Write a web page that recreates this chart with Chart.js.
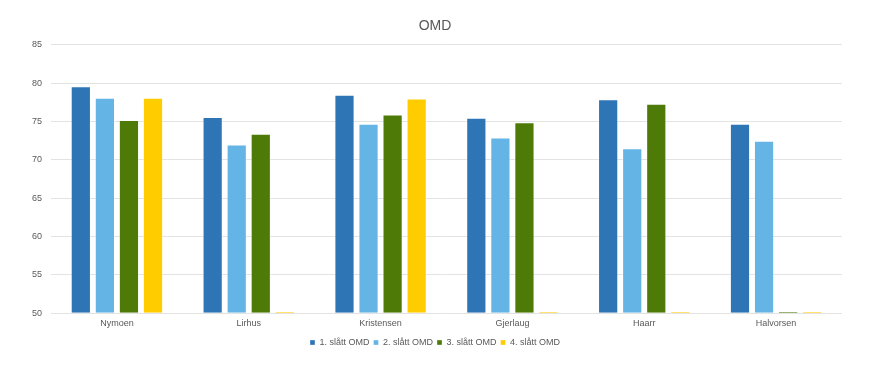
<!DOCTYPE html>
<html>
<head>
<meta charset="utf-8">
<script src="https://cdn.jsdelivr.net/npm/chart.js@4"></script>
<style>
  html, body { margin: 0; padding: 0; background: #fff; }
  #wrap { width: 873px; height: 367px; }
</style>
</head>
<body>
<div id="wrap"><canvas id="omdChart" width="873" height="367"></canvas></div>
<script>
// --- Data ---
const categories = ['Nymoen', 'Lirhus', 'Kristensen', 'Gjerlaug', 'Haarr', 'Halvorsen'];
const slatt1 = [79.6, 75.6, 78.5, 75.5, 77.9, 74.7];
const slatt2 = [78.1, 72.0, 74.7, 72.9, 71.5, 72.5];
const slatt3 = [75.2, 73.4, 75.9, 74.9, 77.3, 0];
const slatt4 = [78.1, 0, 78.0, 0, 0, 0];
const seriesNames = ['1. slått OMD', '2. slått OMD', '3. slått OMD', '4. slått OMD'];
const yTicks = [50, 55, 60, 65, 70, 75, 80, 85];

const yMin = yTicks[0];
const yMax = yTicks[yTicks.length - 1];
const colors = ['#2E75B6', '#64B4E5', '#4E7A07', '#FFCC00'];

// values under the axis minimum are drawn as a thin line at the axis, like the original
const clampToAxis = arr => arr.map(v => Math.max(v, yMin));

const datasets = [slatt1, slatt2, slatt3, slatt4].map((vals, i) => ({
    label: seriesNames[i],
    data: clampToAxis(vals),
    backgroundColor: colors[i],
    borderColor: 'rgba(255,255,255,0.35)',
    borderWidth: 1,
    base: yMin,
    minBarLength: 2,
    barPercentage: 0.84,
    categoryPercentage: 0.73
}));

const ctx = document.getElementById('omdChart').getContext('2d');
new Chart(ctx, {
    type: 'bar',
    data: { labels: categories, datasets: datasets },
    options: {
        responsive: false,
        animation: false,
        layout: { padding: { left: 28, right: 31, top: 8, bottom: 10 } },
        plugins: {
            title: {
                display: true,
                text: 'OMD',
                color: '#595959',
                font: { family: 'Liberation Sans, Arial, sans-serif', size: 14, weight: 'normal' },
                padding: { top: 10, bottom: 10 }
            },
            legend: {
                position: 'bottom',
                labels: {
                    color: '#595959',
                    font: { family: 'Liberation Sans, Arial, sans-serif', size: 9 },
                    boxWidth: 5,
                    boxHeight: 5,
                    padding: 4
                }
            },
            tooltip: { enabled: false }
        },
        scales: {
            x: {
                grid: { display: false, drawTicks: false },
                border: { display: false },
                ticks: {
                    color: '#595959',
                    font: { family: 'Liberation Sans, Arial, sans-serif', size: 9 },
                    padding: 5
                }
            },
            y: {
                min: yMin,
                max: yMax,
                afterBuildTicks: axis => { axis.ticks = yTicks.map(v => ({ value: v })); },
                afterFit: axis => { axis.width = 23; },
                grid: { color: '#e3e3e3', drawTicks: false },
                border: { display: false },
                ticks: {
                    color: '#595959',
                    font: { family: 'Liberation Sans, Arial, sans-serif', size: 9 },
                    padding: 9
                }
            }
        }
    }
});
</script>
</body>
</html>
